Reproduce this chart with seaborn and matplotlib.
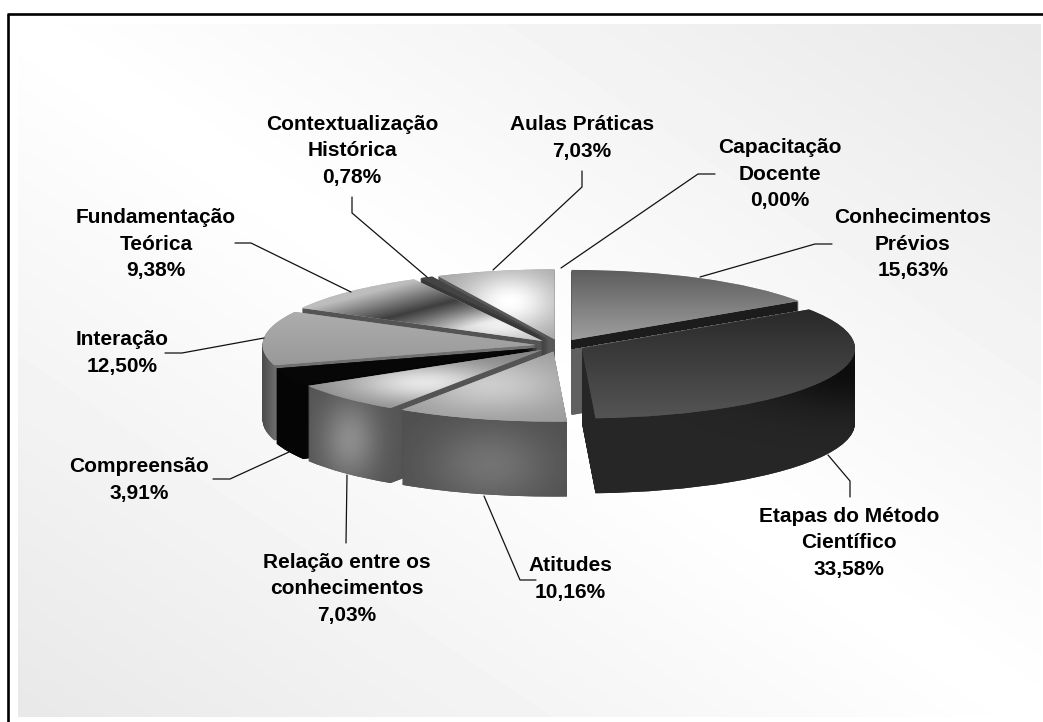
import numpy as np
import matplotlib
matplotlib.use("Agg")
import matplotlib.pyplot as plt
from matplotlib.path import Path
from matplotlib.patches import PathPatch
import seaborn as sns

# Data
categories = ["Conhecimentos\nPrévios", "Etapas do Método\nCientífico", "Atitudes",
              "Relação entre os\nconhecimentos", "Compreensão", "Interação",
              "Fundamentação\nTeórica", "Contextualização\nHistórica",
              "Aulas Práticas", "Capacitação\nDocente"]
values = [15.63, 33.58, 10.16, 7.03, 3.91, 12.50, 9.38, 0.78, 7.03, 0.00]
value_labels = ["15,63%", "33,58%", "10,16%", "7,03%", "3,91%", "12,50%", "9,38%", "0,78%", "7,03%", "0,00%"]

# label centres and leader lines, in pixels
label_pos = [(913, 244), (849, 543), (570, 579), (347, 589), (139, 480),
             (122, 353), (156, 244), (352, 151), (582, 138), (780, 174)]
leaders = [[(700, 277), (815, 244), (832, 244)],
           [(828, 455), (850, 481), (850, 497)],
           [(484, 496), (520, 580), (536, 580)],
           [(347, 475), (346, 543)],
           [(289, 452), (230, 479), (213, 479)],
           [(264, 338), (182, 353), (165, 353)],
           [(351, 292), (251, 243), (235, 243)],
           [(427, 277), (352, 213), (352, 197)],
           [(493, 270), (582, 187), (582, 171)],
           [(561, 268), (698, 174), (715, 174)]]

W, H = 1043, 722
cx, cy = 560, 345.5   # pie centre
rx, ry = 273, 70      # ellipse radii
depth = 75
explode = [0.09] * len(values)

sns.set_theme(style="white")
plt.rcParams["font.family"] = ["Liberation Sans"]

fig = plt.figure(figsize=(W / 100, H / 100), dpi=100, facecolor="white")

# Background panel
X, Y = np.meshgrid(np.arange(W) + 0.5, np.arange(H) + 0.5)
bg_ax = fig.add_axes([0, 0, 1, 1], zorder=0)
u = (X - 18) / 1023
v = (Y - 24) / 693
bg = 1 - 0.09 * np.abs(u - v)
bg_img = bg_ax.imshow(bg, cmap="gray", vmin=0, vmax=1, extent=(0, W, H, 0), aspect="auto")
bg_ax.set_xlim(0, W)
bg_ax.set_ylim(H, 0)
bg_ax.axis("off")
mask = PathPatch(Path([(18, 24), (1041, 24), (1041, 717), (18, 717), (18, 24)]),
                 transform=bg_ax.transData, fc="none", ec="none")
bg_ax.add_patch(mask)
bg_img.set_clip_path(mask)


def peak(px, py, sx, sy):
    return np.exp(-((X - px) / sx) ** 2 - ((Y - py) / sy) ** 2)


def ramp(t, a, b):
    return a + (b - a) * np.clip(t, 0, 1)


# Fundamentação has a dark fold across the top
fold = np.abs(Y - (318 - (X - 388) * 0.26))
fund_top = 0.24 + 0.5 * np.clip(fold / 30, 0, 1) + 0.2 * peak(500, 325, 50, 14)

top_shades = [ramp((Y - 269) / 71, 0.36, 0.62),
              ramp((Y - 309) / 109, 0.16, 0.33),
              0.6 + 0.2 * peak(490, 385, 75, 28),
              0.52 + 0.38 * peak(425, 383, 78, 20),
              np.full_like(X, 0.03),
              ramp((Y - 310) / 55, 0.68, 0.6),
              fund_top,
              np.full_like(X, 0.27),
              0.64 + 0.36 * peak(510, 302, 48, 30),
              np.full_like(X, 0.5)]

conh_edge = 340 - 0.17 * (X - 572) + 9
side_shades = [np.where(Y < conh_edge, 0.11, 0.38),
               0.15 - 0.1 * peak(860, 370, 110, 40),
               0.31 + 0.14 * peak(490, 465, 60, 40),
               0.33 + 0.22 * peak(350, 440, 28, 40),
               np.full_like(X, 0.02),
               ramp((X - 263) / 14, 0.3, 0.44),
               np.full_like(X, 0.33),
               np.full_like(X, 0.22),
               np.full_like(X, 0.35),
               np.full_like(X, 0.3)]

# Pie, squashed to an ellipse and stacked to give the slices some depth
pie_ax = fig.add_axes([0, 0, 1, 1], zorder=1)
pie_ax.patch.set_alpha(0)

mids = 90 - (np.cumsum(values) - np.array(values) / 2) * 3.6
order = np.argsort(-np.sin(np.radians(mids)))
rank = np.empty(len(values), dtype=int)
rank[order] = np.arange(len(values))

layers = [[] for _ in values]
for k in range(depth, -1, -1):
    greys = [str(round(float(s[int(cy + 40), int(cx)]), 3)) for s in (side_shades if k else top_shades)]
    wedges, _ = pie_ax.pie(values, explode=explode, center=(0, -k / ry), startangle=90,
                           counterclock=False, colors=greys, frame=True,
                           wedgeprops={"linewidth": 0})
    for i, w in enumerate(wedges):
        w.set_zorder(10 * rank[i] + (1 if k else 3))
        layers[i].append(w.get_path())

extent = (-cx / rx, (W - cx) / rx, (cy - H) / ry, cy / ry)
for i, val in enumerate(values):
    if val == 0:
        continue
    side_clip = PathPatch(Path.make_compound_path(*layers[i][:-1]), transform=pie_ax.transData,
                          fc="none", ec="none")
    top_clip = PathPatch(layers[i][-1], transform=pie_ax.transData, fc="none", ec="none")
    pie_ax.add_patch(side_clip)
    pie_ax.add_patch(top_clip)
    for shade, clip, z in [(side_shades[i], side_clip, 2), (top_shades[i], top_clip, 4)]:
        img = pie_ax.imshow(shade, cmap="gray", vmin=0, vmax=1, extent=extent, aspect="auto",
                            origin="upper", zorder=10 * rank[i] + z, interpolation="bilinear")
        img.set_clip_path(clip)

pie_ax.set_aspect("auto")
pie_ax.set_xlim(extent[0], extent[1])
pie_ax.set_ylim(extent[2], extent[3])
pie_ax.axis("off")

# Labels and leaders
top_ax = fig.add_axes([0, 0, 1, 1], zorder=2)
top_ax.patch.set_alpha(0)
for pts in leaders:
    xs, ys = zip(*pts)
    sns.lineplot(x=list(xs), y=list(ys), sort=False, estimator=None, color="#111111",
                 linewidth=0.9, ax=top_ax, legend=False)
for name, pct, (lx, ly) in zip(categories, value_labels, label_pos):
    top_ax.text(lx, ly, name + "\n" + pct, ha="center", va="center", fontsize=15,
                fontweight="bold", color="black", linespacing=1.5)

# Frame, left and top only
top_ax.plot([8, 8], [H, 14], color="black", linewidth=1.9, solid_capstyle="butt")
top_ax.plot([7, W], [14, 14], color="black", linewidth=1.9, solid_capstyle="butt")
top_ax.set_xlim(0, W)
top_ax.set_ylim(H, 0)
top_ax.axis("off")

fig.savefig("out.png", dpi=100)
plt.close(fig)
